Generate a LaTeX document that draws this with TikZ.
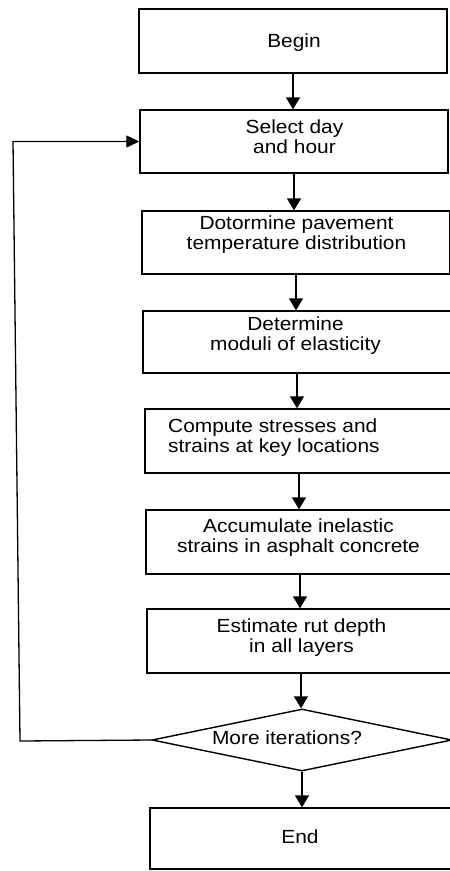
\documentclass[tikz,border=0pt]{standalone}
\usepackage{fontspec}
\setmainfont{Liberation Sans}[FakeStretch=1.1]
\usetikzlibrary{shapes.geometric,arrows.meta}
\begin{document}
\begin{tikzpicture}[x=1pt,y=-1pt,
  box/.style={draw, line width=1.4pt, minimum width=308pt, inner sep=0pt},
  txt/.style={font=\fontsize{19}{20}\selectfont, align=center, inner sep=0pt, anchor=base},
  arr/.style={line width=1.6pt, -{Triangle[length=12pt,width=14pt]}},
  looparr/.style={line width=1.3pt, -{Triangle[length=13pt,width=12pt]}},
]
\useasboundingbox (0,0) rectangle (450,871);
% boxes
\node[box, minimum height=64pt] (b1) at (293,41) {};
\node[box, minimum height=63pt] (b2) at (294,141.5) {};
\node[box, minimum height=63pt] (b3) at (296,242.5) {};
\node[box, minimum height=62pt] (b4) at (297,342) {};
\node[box, minimum height=64pt] (b5) at (299,441) {};
\node[box, minimum height=64pt] (b6) at (300,542) {};
\node[box, minimum height=64pt] (b7) at (301,641) {};
\node[draw, line width=1.4pt, diamond, minimum width=300pt, minimum height=62pt, inner sep=0pt] (dia) at (302,740) {};
\node[box, minimum height=61pt] (b8) at (304,838.5) {};
% texts (base = baseline of last line)
\node[txt] (t1) at (294,47) {Begin};
\node[txt] (t2) at (294.5,153) {Select day\\and hour};
\node[txt] (t3) at (296.5,249) {Dotormine pavement\\temperature distribution};
\node[txt] (t4) at (295.5,350) {Determine\\moduli of elasticity};
\node[txt, align=left, anchor=base west] (t5) at (168,452) {Compute stresses and\\strains at key locations};
\node[txt] (t6) at (298.5,552) {Accumulate inelastic\\strains in asphalt concrete};
\node[txt] (t7) at (301.5,652) {Estimate rut depth\\in all layers};
\node[txt] (t8) at (287,744) {More iterations?};
\node[txt] (t9) at (300,843) {End};
% connectors
\draw[arr] (b1.south) -- (b1.south |- b2.north);
\draw[arr] (b2.south) -- (b2.south |- b3.north);
\draw[arr] (b3.south) -- (b3.south |- b4.north);
\draw[arr] (b4.south) -- (b4.south |- b5.north);
\draw[arr] (b5.south) -- (b5.south |- b6.north);
\draw[arr] (b6.south) -- (b6.south |- b7.north);
\draw[arr] (b7.south) -- (b7.south |- dia.north);
\draw[arr] (dia.south) -- (dia.south |- b8.north);
\coordinate (c1) at (20,741);
\coordinate (c2) at (13,141.5);
\draw[looparr] (dia.west) -- (c1) -- (c2) -- (b2.west);
\end{tikzpicture}
\end{document}
